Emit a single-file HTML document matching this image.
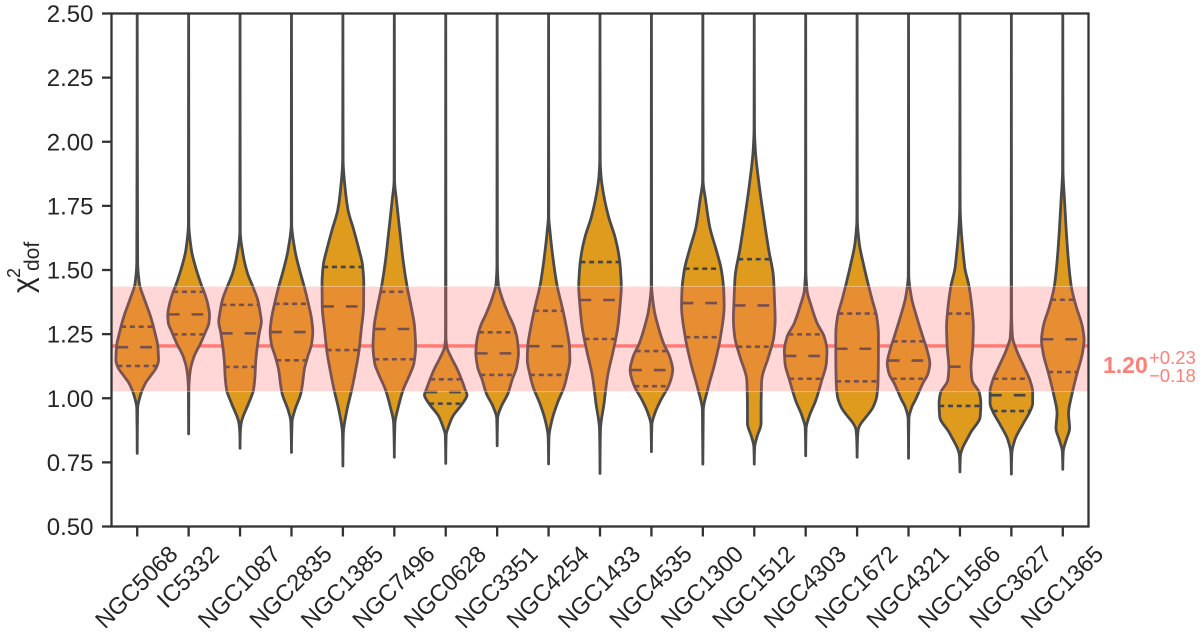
<!DOCTYPE html>
<html lang="en">
<head>
<meta charset="utf-8">
<title>Reduced chi-squared violin chart</title>
<style>
html,body{margin:0;padding:0;background:#fff;}
svg{display:block;filter:blur(0.35px);}
text{font-family:"Liberation Sans","DejaVu Sans",sans-serif;fill:#262626;}
</style>
</head>
<body>
<svg id="chart" xmlns="http://www.w3.org/2000/svg" width="1200" height="635" viewBox="0 0 1200 635">
  <defs><clipPath id="plot-clip"><rect x="111.5" y="13.5" width="977" height="513"/></clipPath></defs>
  <g id="under" clip-path="url(#plot-clip)"></g>
  <g id="violins" clip-path="url(#plot-clip)"></g>
  <g id="over" clip-path="url(#plot-clip)"></g>
  <g id="axes"></g>
  <g transform="translate(33,293) rotate(-90)">
    <text x="0" y="0" font-size="30">χ</text>
    <text x="15" y="-13" font-size="18">2</text>
    <text x="22" y="6" font-size="21">dof</text>
  </g>
  <g>
    <text x="1103" y="373" font-size="23" font-weight="bold" style="fill:#ff8078">1.20</text>
    <text x="1149" y="364" font-size="18.5" style="fill:#ff8078">+0.23</text>
    <text x="1149" y="382" font-size="18.5" style="fill:#ff8078">−0.18</text>
  </g>
</svg>
<script>
const galaxies = ["NGC5068","IC5332","NGC1087","NGC2835","NGC1385","NGC7496","NGC0628","NGC3351","NGC4254","NGC1433","NGC4535","NGC1300","NGC1512","NGC4303","NGC1672","NGC4321","NGC1566","NGC3627","NGC1365"];
const minima = [0.785,0.861,0.805,0.789,0.736,0.770,0.746,0.815,0.744,0.707,0.792,0.743,0.743,0.776,0.770,0.766,0.713,0.704,0.723];
const maxima = [2.6,2.6,2.6,2.6,2.6,2.6,2.6,2.6,2.6,2.6,2.6,2.6,2.6,2.6,2.6,2.6,2.6,2.6,2.6];
const quartile1 = [1.126,1.249,1.122,1.148,1.188,1.152,0.979,1.091,1.091,1.231,1.047,1.238,1.201,1.076,1.066,1.076,0.970,0.950,1.102];
const medians = [1.199,1.327,1.253,1.258,1.358,1.270,1.024,1.175,1.203,1.383,1.110,1.371,1.362,1.165,1.193,1.147,1.123,1.012,1.230];
const quartile3 = [1.279,1.415,1.364,1.368,1.512,1.415,1.074,1.257,1.341,1.531,1.184,1.505,1.542,1.249,1.330,1.222,1.330,1.076,1.384];
const profileChi = [
  [1.53,1.448,1.383,1.318,1.253,1.201,1.149,1.123,1.084,1.058,1.006,0.961],
  [1.68,1.578,1.513,1.448,1.409,1.370,1.325,1.292,1.266,1.214,1.162,1.110,1.071,1.032],
  [1.65,1.552,1.487,1.435,1.383,1.331,1.299,1.253,1.188,1.136,1.084,1.032,0.980,0.902,0.863],
  [1.68,1.578,1.500,1.435,1.370,1.305,1.260,1.214,1.162,1.110,1.058,1.019,0.954,0.909],
  [1.93,1.799,1.734,1.656,1.578,1.520,1.448,1.357,1.266,1.188,1.110,1.032,0.954,0.863],
  [1.85,1.773,1.643,1.539,1.435,1.357,1.279,1.201,1.136,1.097,1.032,0.967,0.902],
  [1.240,1.201,1.162,1.110,1.071,1.032,1.013,0.980,0.928,0.889,0.857],
  [1.52,1.448,1.396,1.331,1.279,1.227,1.175,1.123,1.071,1.019,0.967,0.922],
  [1.708,1.656,1.578,1.448,1.344,1.266,1.201,1.149,1.097,1.045,0.980,0.915,0.850],
  [1.93,1.864,1.799,1.708,1.630,1.565,1.513,1.435,1.370,1.279,1.188,1.084,0.980,0.876],
  [1.44,1.344,1.279,1.214,1.162,1.110,1.084,1.045,0.993,0.941,0.896],
  [1.85,1.773,1.669,1.578,1.500,1.422,1.357,1.240,1.136,1.032,0.954],
  [2.05,1.968,1.838,1.708,1.578,1.474,1.383,1.305,1.240,1.162,1.071,1.019,0.967,0.902,0.850,0.811],
  [1.50,1.422,1.357,1.292,1.240,1.188,1.136,1.071,0.993,0.928,0.883],
  [1.70,1.604,1.526,1.448,1.383,1.318,1.253,1.162,1.058,1.006,0.967,0.876,0.844],
  [1.48,1.396,1.318,1.240,1.188,1.136,1.097,1.058,0.993,0.967,0.922],
  [1.75,1.513,1.435,1.331,1.279,1.201,1.123,1.071,1.019,0.980,0.928,0.863,0.773],
  [1.33,1.240,1.188,1.123,1.071,1.026,0.980,0.948,0.902,0.837,0.785],
  [1.89,1.773,1.643,1.513,1.435,1.357,1.279,1.227,1.175,1.097,1.019,0.941,0.883,0.837,0.792]
];
const profileDensity = [
  [0.02,0.10,0.35,0.63,0.84,0.97,1.00,0.92,0.60,0.38,0.13,0.02],
  [0.01,0.13,0.32,0.57,0.75,0.89,0.98,0.95,0.83,0.56,0.25,0.08,0.03,0.01],
  [0.01,0.16,0.35,0.60,0.83,0.95,1.00,0.90,0.79,0.73,0.70,0.63,0.40,0.05,0.01],
  [0.01,0.16,0.38,0.60,0.79,0.95,1.00,0.95,0.76,0.60,0.52,0.44,0.16,0.03],
  [0.01,0.13,0.24,0.51,0.76,0.92,0.98,0.97,0.86,0.76,0.60,0.41,0.19,0.02],
  [0.01,0.10,0.27,0.41,0.60,0.79,0.95,1.00,0.92,0.75,0.41,0.19,0.03],
  [0.01,0.05,0.24,0.56,0.75,0.92,1.00,0.79,0.32,0.13,0.02],
  [0.01,0.05,0.21,0.51,0.79,0.95,1.00,0.92,0.70,0.51,0.19,0.02],
  [0.01,0.06,0.16,0.38,0.67,0.86,0.98,1.00,0.89,0.73,0.41,0.16,0.02],
  [0.01,0.05,0.16,0.40,0.70,0.87,0.95,1.00,0.95,0.84,0.63,0.35,0.19,0.02],
  [0.01,0.13,0.32,0.57,0.86,1.00,0.95,0.79,0.44,0.16,0.02],
  [0.01,0.13,0.32,0.63,0.87,0.98,1.00,0.83,0.56,0.22,0.02],
  [0.01,0.05,0.22,0.44,0.68,0.90,0.95,0.98,0.92,0.67,0.35,0.33,0.32,0.32,0.13,0.02],
  [0.01,0.06,0.27,0.54,0.87,1.00,0.97,0.76,0.48,0.16,0.02],
  [0.01,0.10,0.29,0.51,0.71,0.92,1.00,1.00,0.98,0.92,0.76,0.05,0.02],
  [0.01,0.13,0.38,0.67,0.87,1.00,0.92,0.67,0.32,0.16,0.02],
  [0.01,0.22,0.43,0.59,0.63,0.60,0.52,0.57,0.92,0.98,0.95,0.48,0.02],
  [0.01,0.05,0.24,0.59,0.87,1.00,1.00,0.87,0.56,0.16,0.02],
  [0.01,0.08,0.17,0.29,0.40,0.63,0.92,1.00,0.92,0.67,0.44,0.27,0.32,0.16,0.02]
];
const yTicks = [0.5,0.75,1.0,1.25,1.5,1.75,2.0,2.25,2.5];
const yTickLabels = ["0.50","0.75","1.00","1.25","1.50","1.75","2.00","2.25","2.50"];
const globalChi = 1.204;
const globalUpper = 0.232;
const globalLower = 0.178;

const NS = "http://www.w3.org/2000/svg";
const plotLeft = 111.5, plotRight = 1088.5, plotTop = 13.5, plotBottom = 526.5;
const yMin = 0.5, yMax = 2.5, maxHalfWidth = 21.3;
const xScale = i => plotLeft + (i + 0.5) * (plotRight - plotLeft) / galaxies.length;
const yScale = v => plotBottom - (v - yMin) * (plotBottom - plotTop) / (yMax - yMin);
const widthScale = d => d * maxHalfWidth;

function make(tag, attrs, parent) {
  const el = document.createElementNS(NS, tag);
  for (const k in attrs) el.setAttribute(k, attrs[k]);
  parent.appendChild(el);
  return el;
}
function densityAt(i, v) {
  const c = profileChi[i], d = profileDensity[i];
  for (let k = 0; k < c.length - 1; k++) {
    if (v <= c[k] && v >= c[k + 1]) {
      const t = (c[k] - v) / (c[k] - c[k + 1]);
      return d[k] + t * (d[k + 1] - d[k]);
    }
  }
  return 0;
}
/* monotone cubic along y: no overshoot at taper tips */
function sidePath(pts) {
  const n = pts.length, slopes = [], tans = [];
  for (let k = 0; k < n - 1; k++) slopes.push((pts[k + 1][0] - pts[k][0]) / (pts[k + 1][1] - pts[k][1]));
  for (let k = 0; k < n; k++) {
    if (k === 0 || k === n - 1) { tans.push(0); continue; }
    const a = slopes[k - 1], b = slopes[k];
    tans.push(a * b <= 0 ? 0 : 2 * a * b / (a + b));
  }
  let s = "";
  for (let k = 0; k < n - 1; k++) {
    const h = (pts[k + 1][1] - pts[k][1]) / 3;
    s += "C" + (pts[k][0] + tans[k] * h).toFixed(2) + " " + (pts[k][1] + h).toFixed(2) + " " +
         (pts[k + 1][0] - tans[k + 1] * h).toFixed(2) + " " + (pts[k + 1][1] - h).toFixed(2) + " " +
         pts[k + 1][0].toFixed(2) + " " + pts[k + 1][1].toFixed(2);
  }
  return s;
}

const under = document.getElementById("under");
const violinsG = document.getElementById("violins");
const over = document.getElementById("over");
const axes = document.getElementById("axes");

const medianLine = make("line", {x1: plotLeft, x2: plotRight, y1: yScale(globalChi), y2: yScale(globalChi), stroke: "#ff8078", "stroke-width": 3.4}, under);



galaxies.forEach((name, i) => {
  const cx = xScale(i);
  const g = make("g", {}, violinsG);
  
  
  const chi = [maxima[i]].concat(profileChi[i], [minima[i]]);
  const den = [0].concat(profileDensity[i], [0]);
  const right = chi.map((v, k) => [cx + Math.max(widthScale(den[k]), 0), yScale(v)]);
  const left = chi.map((v, k) => [cx - Math.max(widthScale(den[k]), 0), yScale(v)]).reverse();
  const d = "M" + right[0][0].toFixed(2) + " " + right[0][1].toFixed(2) + sidePath(right) +
            "L" + left[0][0].toFixed(2) + " " + left[0][1].toFixed(2) + sidePath(left) + "Z";
  const body = make("path", {d: d, fill: "#de9b1d", stroke: "#4a4a4a", "stroke-width": 2.8, "stroke-linejoin": "round"}, g);
  
  

  const drawInner = (value, dash, label) => {
    const hw = widthScale(densityAt(i, value));
    const ln = make("line", {x1: cx - hw, x2: cx + hw, y1: yScale(value), y2: yScale(value), stroke: "#454545", "stroke-width": 2.6, "stroke-dasharray": dash}, g);
    
    
  };
  drawInner(quartile1[i], "5 3.8", "lower-quartile-line");
  drawInner(medians[i], "11.7 12", "median-line");
  drawInner(quartile3[i], "5 3.8", "upper-quartile-line");
});

const bandTop = yScale(globalChi + globalUpper), bandBottom = yScale(globalChi - globalLower);
const band = make("rect", {x: plotLeft, y: bandTop, width: plotRight - plotLeft, height: bandBottom - bandTop, fill: "#ff6b6b", "fill-opacity": 0.27}, over);


[bandTop, bandBottom].forEach(y => {
  const edge = make("line", {x1: plotLeft, x2: plotRight, y1: y, y2: y, stroke: "#fff", "stroke-opacity": 0.35, "stroke-width": 1.2}, over);
  
  
});

const frame = make("rect", {x: plotLeft, y: plotTop, width: plotRight - plotLeft, height: plotBottom - plotTop, fill: "none", stroke: "#333", "stroke-width": 2.3}, axes);



yTicks.forEach((v, i) => {
  const y = yScale(v);
  const tick = make("line", {x1: plotLeft - 9.5, x2: plotLeft, y1: y, y2: y, stroke: "#333", "stroke-width": 2.3}, axes);
  
  
  const label = make("text", {x: 93.5, y: y + 8.5, "font-size": 24, "text-anchor": "end"}, axes);
  label.textContent = yTickLabels[i];
  
  
});

galaxies.forEach((name, i) => {
  const x = xScale(i);
  const tick = make("line", {x1: x, x2: x, y1: plotBottom, y2: plotBottom + 10, stroke: "#333", "stroke-width": 2.3}, axes);
  
  
  const label = make("text", {x: x, y: 0, "font-size": 23.6, "text-anchor": "middle"}, axes);
  label.textContent = name;
  
  
  const len = label.getComputedTextLength();
  const cy = 540.5 + (len + 26) * 0.7071 / 2;
  const cx = x - 1;
  label.setAttribute("x", cx);
  label.setAttribute("y", cy + 8.3);
  label.setAttribute("transform", "rotate(-45 " + cx + " " + cy + ")");
});
</script>
</body>
</html>
